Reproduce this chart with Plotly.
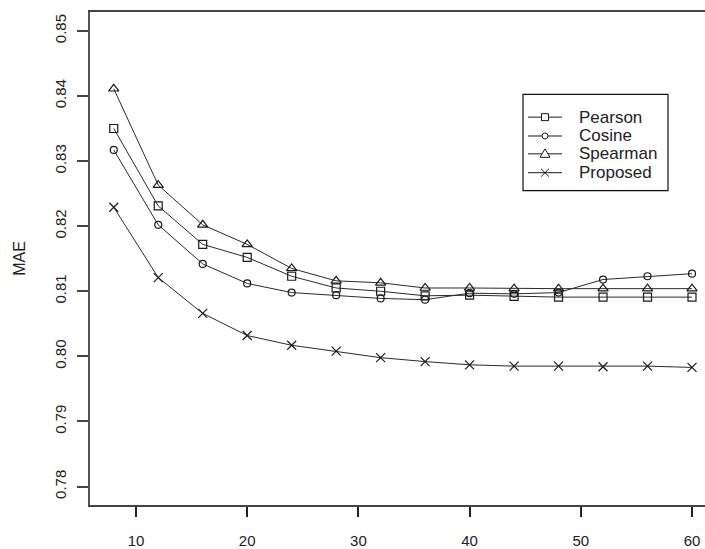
import plotly.graph_objects as go

x_vals = [8, 12, 16, 20, 24, 28, 32, 36, 40, 44, 48, 52, 56, 60]
pearson = [0.8350, 0.8231, 0.8172, 0.8152, 0.8123, 0.8105, 0.8100, 0.8093, 0.8094, 0.8092, 0.8091, 0.8091, 0.8091, 0.8091]
cosine = [0.8317, 0.8202, 0.8142, 0.8112, 0.8098, 0.8094, 0.8089, 0.8087, 0.8097, 0.8096, 0.8098, 0.8118, 0.8123, 0.8127]
spearman = [0.8411, 0.8263, 0.8202, 0.8172, 0.8135, 0.8116, 0.8113, 0.8105, 0.8105, 0.8104, 0.8104, 0.8104, 0.8104, 0.8104]
proposed = [0.8229, 0.8121, 0.8066, 0.8032, 0.8017, 0.8008, 0.7998, 0.7992, 0.7987, 0.7985, 0.7985, 0.7984, 0.7985, 0.7983]

series_names = ["Pearson", "Cosine", "Spearman", "Proposed"]
series_values = [pearson, cosine, spearman, proposed]
series_symbols = ["square-open", "circle-open", "triangle-up-open", "x-thin-open"]
series_sizes = [8, 7, 9, 9]

y_ticks = [0.78, 0.79, 0.80, 0.81, 0.82, 0.83, 0.84, 0.85]
x_ticks = [10, 20, 30, 40, 50, 60]

FONT = "Liberation Sans, Arial, sans-serif"
W, H = 705, 549
L, R, T, B = 90, 0, 12, 40
PW, PH = W - L - R, H - T - B

def px(x):
    return (x - L) / PW

def py(y):
    return 1 - (y - T) / PH

fig = go.Figure()
for name, vals, sym, size in zip(series_names, series_values, series_symbols, series_sizes):
    fig.add_trace(go.Scatter(
        x=x_vals, y=vals, name=name, mode="lines+markers",
        line=dict(color="#2a2a2a", width=1),
        marker=dict(symbol=sym, size=size, color="#1a1a1a",
                    line=dict(color="#1a1a1a", width=1.2)),
        showlegend=False,
    ))

# manual legend (box, sample lines, symbols, labels)
shapes = []
annotations = []
shapes.append(dict(type="rect", xref="paper", yref="paper",
                   x0=px(523), x1=px(668), y0=py(192), y1=py(95),
                   line=dict(color="#111", width=1.2), fillcolor="white", layer="above"))
entry_y = [118, 137, 155, 174]
c = "#1a1a1a"
for name, sym, yy in zip(series_names, series_symbols, entry_y):
    shapes.append(dict(type="line", xref="paper", yref="paper",
                       x0=px(528), x1=px(562), y0=py(yy), y1=py(yy),
                       line=dict(color=c, width=1), layer="above"))
    cx = 545
    if sym.startswith("square"):
        shapes.append(dict(type="rect", xref="paper", yref="paper",
                           x0=px(cx - 3.5), x1=px(cx + 3.5), y0=py(yy + 3.5), y1=py(yy - 3.5),
                           line=dict(color=c, width=1), fillcolor="white", layer="above"))
    elif sym.startswith("circle"):
        shapes.append(dict(type="circle", xref="paper", yref="paper",
                           x0=px(cx - 3), x1=px(cx + 3), y0=py(yy + 3), y1=py(yy - 3),
                           line=dict(color=c, width=1), fillcolor="white", layer="above"))
    elif sym.startswith("triangle"):
        p = "M %f,%f L %f,%f L %f,%f Z" % (px(cx - 5), py(yy + 3.5), px(cx + 5), py(yy + 3.5), px(cx), py(yy - 5))
        shapes.append(dict(type="path", xref="paper", yref="paper", path=p,
                           line=dict(color=c, width=1), fillcolor="white", layer="above"))
    else:
        p = "M %f,%f L %f,%f M %f,%f L %f,%f" % (px(cx - 4), py(yy - 4), px(cx + 4), py(yy + 4),
                                                  px(cx - 4), py(yy + 4), px(cx + 4), py(yy - 4))
        shapes.append(dict(type="path", xref="paper", yref="paper", path=p,
                           line=dict(color=c, width=1), layer="above"))
    annotations.append(dict(text=name, xref="paper", yref="paper",
                            x=px(577), y=py(yy), xanchor="left", yanchor="middle",
                            showarrow=False,
                            font=dict(family=FONT, size=17, color="#222")))

fig.update_layout(
    width=W, height=H,
    margin=dict(l=L, r=R, t=T, b=B),
    paper_bgcolor="white", plot_bgcolor="white",
    font=dict(family=FONT, size=15, color="#222"),
    showlegend=False,
    shapes=shapes,
    annotations=annotations,
)

fig.update_xaxes(
    range=[5.863, 61.169],
    tickvals=x_ticks, ticktext=[str(v) for v in x_ticks],
    showgrid=False, zeroline=False,
    showline=True, mirror=True, linecolor="#444", linewidth=1.5,
    ticks="outside", ticklen=10, tickwidth=1.5, tickcolor="#222",
    tickfont=dict(family=FONT, size=15, color="#222"),
    ticklabelstandoff=11,
)
fig.update_yaxes(
    range=[0.77717, 0.85289],
    tickvals=y_ticks, ticktext=["%.2f" % v for v in y_ticks],
    tickangle=-90,
    showgrid=False, zeroline=False,
    showline=True, mirror=False, linecolor="#555", linewidth=1.5,
    ticks="outside", ticklen=11, tickwidth=1.5, tickcolor="#444",
    tickfont=dict(family=FONT, size=15, color="#222"),
    ticklabelstandoff=5,
    title=dict(text="MAE", font=dict(family=FONT, size=16, color="#222"), standoff=23),
)

fig.write_html("out.html", config={"displayModeBar": False},
               post_script="document.body.style.margin='0';")
